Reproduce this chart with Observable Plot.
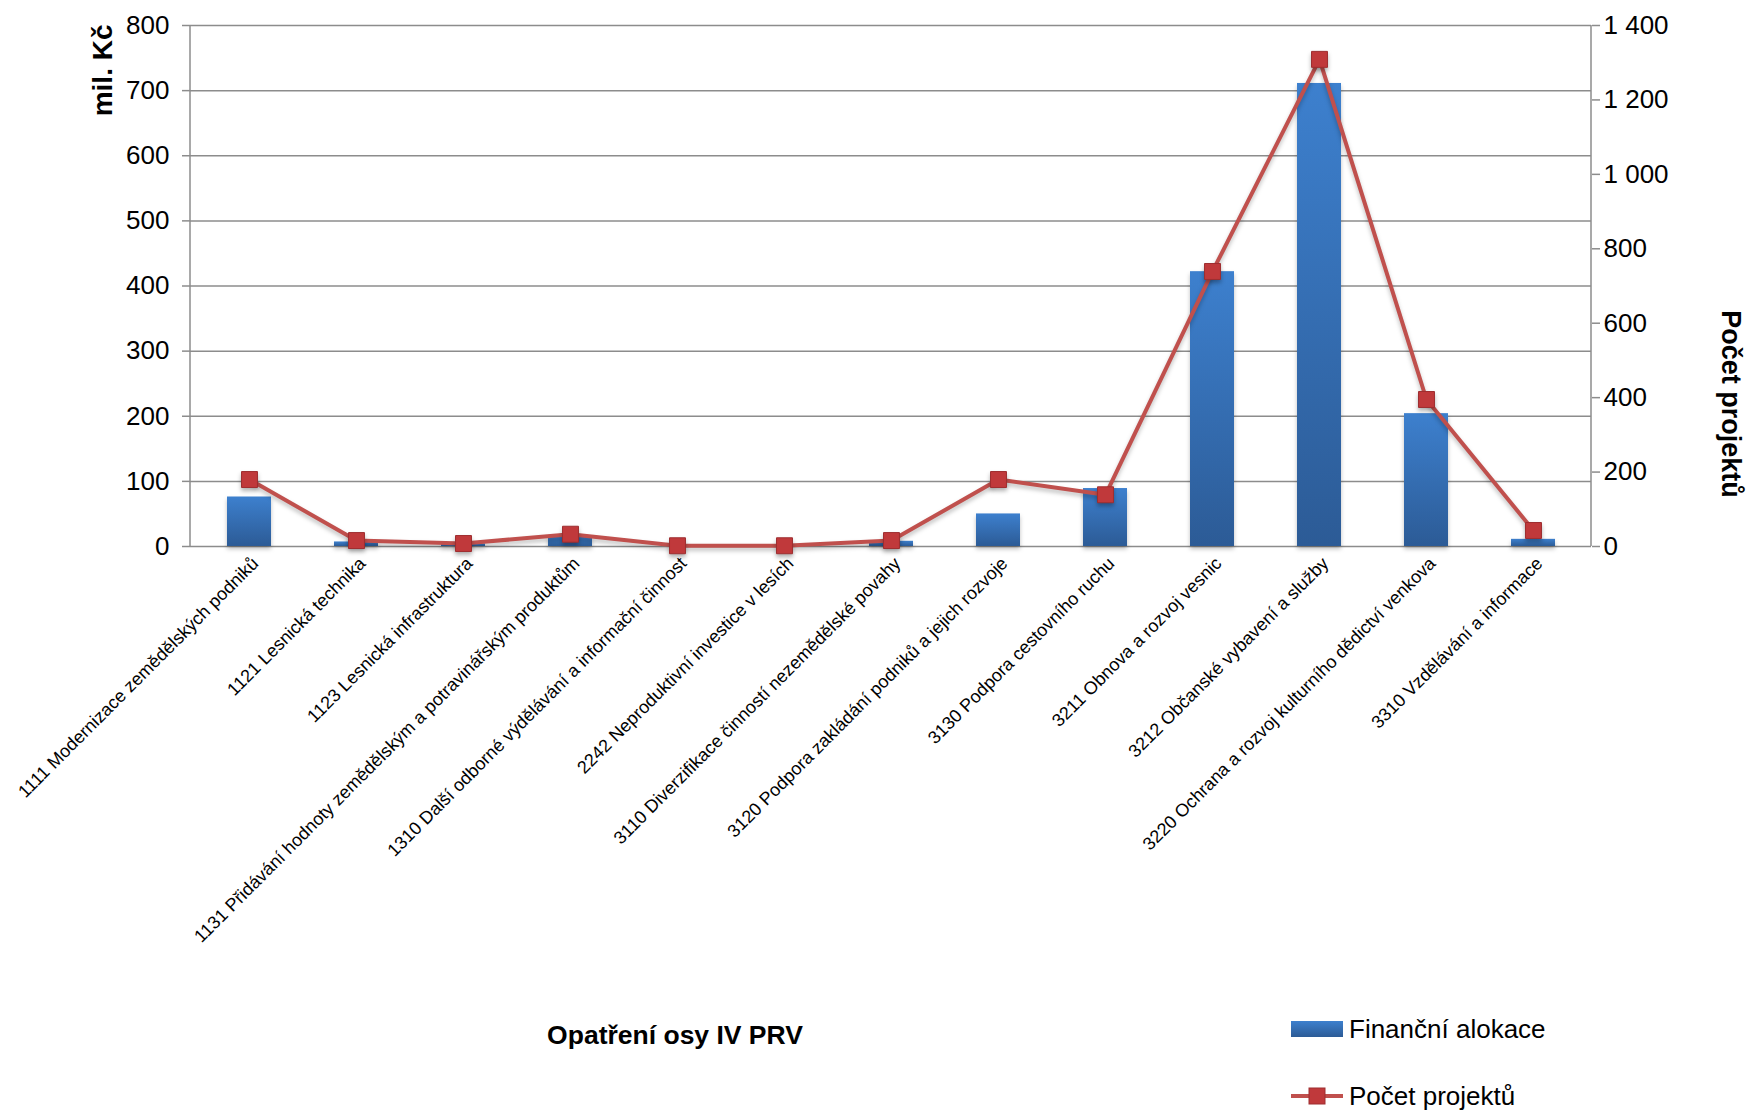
<!DOCTYPE html>
<html>
<head>
<meta charset="utf-8">
<script src="https://cdn.jsdelivr.net/npm/d3@7"></script>
<script src="https://cdn.jsdelivr.net/npm/@observablehq/plot@0.6"></script>
<style>
  html, body { margin: 0; padding: 0; background: #fff; }
  body { font-family: "Liberation Sans", Arial, sans-serif; }
  #wrap { position: relative; width: 1748px; height: 1110px; overflow: hidden; }
  #chart svg { display: block; overflow: visible; }
  .ftr { position: absolute; color: #000; white-space: nowrap; line-height: 1; }
  #xtitle { font-weight: bold; font-size: 26.5px; transform: translate(-50%, -50%); }
  .leg { font-size: 26px; display: flex; align-items: center; transform: translateY(-50%); }
  .leg svg { margin-right: 6px; }
  g[aria-label="bar"] rect { filter: drop-shadow(0px 3px 2px rgba(0,0,0,0.25)); }
  g[aria-label="dot"] path { filter: drop-shadow(0px 3px 2px rgba(0,0,0,0.3)); }
  g[aria-label="line"] path { filter: drop-shadow(0px 3px 2px rgba(0,0,0,0.25)); }
</style>
</head>
<body>
<svg width="0" height="0" style="position:absolute">
  <defs>
    <linearGradient id="barGrad" x1="0" y1="0" x2="0" y2="1">
      <stop offset="0" stop-color="#3d80ce"/>
      <stop offset="1" stop-color="#2c5b96"/>
    </linearGradient>
  </defs>
</svg>
<div id="wrap">
  <div id="chart"></div>
  <div class="ftr" id="xtitle" style="left:675px; top:1035px;">Opatření osy IV PRV</div>
  <div class="ftr leg" style="left:1291px; top:1029px;">
    <svg width="52" height="16"><rect x="0" y="0" width="52" height="16" fill="url(#barGrad)"/></svg>
    <span>Finanční alokace</span>
  </div>
  <div class="ftr leg" style="left:1291px; top:1096px;">
    <svg width="52" height="20"><line x1="0" x2="52" y1="10" y2="10" stroke="#c0504d" stroke-width="4"/><rect x="18" y="2" width="16" height="16" fill="#c0393b" stroke="#9e2e30" stroke-width="1"/></svg>
    <span>Počet projektů</span>
  </div>
</div>
<script>
const categories = [
  "1111 Modernizace zemědělských podniků",
  "1121 Lesnická technika",
  "1123 Lesnická infrastruktura",
  "1131 Přidávání hodnoty zemědělským a potravinářským produktům",
  "1310 Další odborné výdělávání a informační činnost",
  "2242 Neproduktivní investice v lesích",
  "3110 Diverzifikace činností nezemědělské povahy",
  "3120 Podpora zakládání podniků a jejich rozvoje",
  "3130 Podpora cestovního ruchu",
  "3211 Obnova a rozvoj vesnic",
  "3212 Občanské vybavení a služby",
  "3220 Ochrana a rozvoj kulturního dědictví venkova",
  "3310 Vzdělávání a informace"
];
const allocation = [76, 7, 4, 16, 0, 0, 8, 50, 89, 422, 711, 204, 11];
const projects = [180, 16, 8, 33, 2, 2, 16, 180, 139, 739, 1309, 395, 43];
const leftTicks = [0, 100, 200, 300, 400, 500, 600, 700, 800];
const rightTicks = [0, 200, 400, 600, 800, 1000, 1200, 1400];
const leftMax = 800, rightMax = 1400;
const k = leftMax / rightMax;

const data = categories.map((c, i) => ({cat: c, alloc: allocation[i], proj: projects[i]}));
const fmtSpace = n => String(n).replace(/\B(?=(\d{3})+(?!\d))/g, " ");
const gray = "#8c8c8c";

const axisLines = (index, scales, values, dims) => {
  const g = d3.create("svg:g").attr("stroke", gray).attr("stroke-width", 1.5);
  const y0 = dims.marginTop, y1 = dims.height - dims.marginBottom;
  const xl = dims.marginLeft, xr = dims.width - dims.marginRight;
  g.append("line").attr("x1", xl).attr("x2", xl).attr("y1", y0).attr("y2", y1);
  g.append("line").attr("x1", xr).attr("x2", xr).attr("y1", y0).attr("y2", y1);
  return g.node();
};

const plot = Plot.plot({
  width: 1748,
  height: 1000,
  marginLeft: 190,
  marginRight: 157,
  marginTop: 25,
  marginBottom: 454,
  style: {fontFamily: "'Liberation Sans', Arial, sans-serif", color: "#000", background: "transparent"},
  x: {domain: categories, paddingInner: 0.59, paddingOuter: 0.295},
  y: {domain: [0, leftMax]},
  marks: [
    Plot.gridY(leftTicks, {stroke: gray, strokeOpacity: 1, strokeWidth: 1.5}),
    axisLines,
    Plot.axisY({ticks: leftTicks, tickSize: 8, tickPadding: 13, fontSize: 26, stroke: gray, strokeWidth: 1.5, label: null}),
    Plot.axisY({anchor: "right", ticks: rightTicks.map(v => v * k), tickFormat: d => fmtSpace(Math.round(d / k)), tickSize: 8, tickPadding: 4, fontSize: 26, stroke: gray, strokeWidth: 1.5, label: null}),
    Plot.axisX({tickRotate: -45, tickSize: 0, tickPadding: 14, fontSize: 18, dx: 6, label: null}),
    Plot.barY(data, {x: "cat", y: "alloc", fill: "url(#barGrad)"}),
    Plot.line(data, {x: "cat", y: d => d.proj * k, stroke: "#c0504d", strokeWidth: 4}),
    Plot.dot(data, {x: "cat", y: d => d.proj * k, symbol: "square", r: 9, fill: "#c0393b", stroke: "#9e2e30", strokeWidth: 1}),
    Plot.text(["mil. Kč"], {frameAnchor: "top-left", text: d => d, rotate: -90, textAnchor: "end", lineAnchor: "middle", dx: -87, dy: -1, fontSize: 28, fontWeight: "bold"}),
    Plot.text(["Počet projektů"], {frameAnchor: "right", text: d => d, rotate: 90, textAnchor: "middle", lineAnchor: "middle", dx: 139, dy: 118, fontSize: 27, fontWeight: "bold"})
  ]
});
document.getElementById("chart").appendChild(plot);
</script>
</body>
</html>
